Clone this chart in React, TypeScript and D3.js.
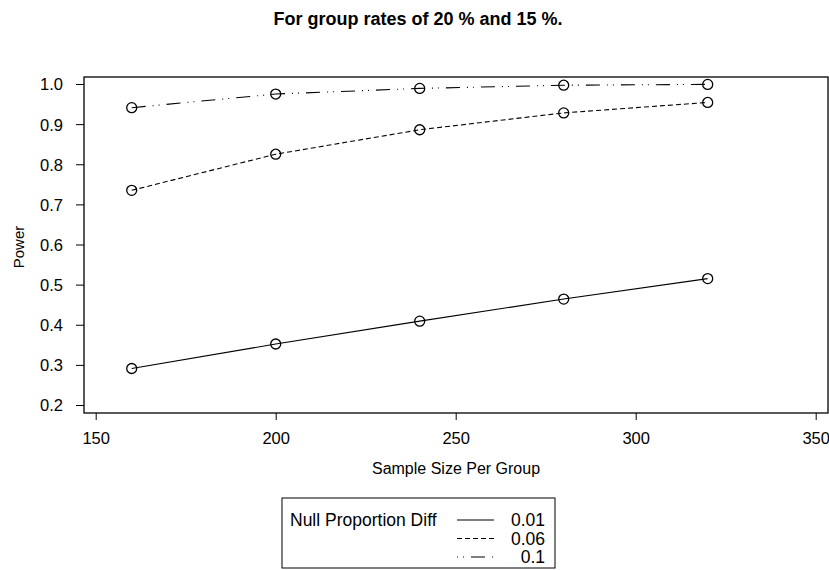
import React, { useEffect, useRef } from 'react';
import * as d3 from 'd3';

const sampleSizes = [160, 200, 240, 280, 320];
const nullDiffs = ['0.01', '0.06', '0.1'];
const power001 = [0.291, 0.352, 0.409, 0.464, 0.515];
const power006 = [0.735, 0.825, 0.886, 0.928, 0.954];
const power01 = [0.941, 0.975, 0.989, 0.997, 0.999];
const xTicks = [150, 200, 250, 300, 350];
const yTicks = [0.2, 0.3, 0.4, 0.5, 0.6, 0.7, 0.8, 0.9, 1.0];

const dashes = ['none', '5,3', '14,7,1,5,1,7'];

const App = () => {
  const ref = useRef<SVGSVGElement>(null);

  useEffect(() => {
    const svg = d3.select(ref.current);
    svg.selectAll('*').remove();
    const font = 'Liberation Sans, Arial, sans-serif';

    const left = 84, right = 828, top = 77, bottom = 413;
    const x = d3.scaleLinear().domain([150, 350]).range([95.7, 815.7]);
    const y = d3.scaleLinear().domain([0.2, 1.0]).range([405, 84]);

    svg.append('text')
      .attr('x', 418).attr('y', 25)
      .attr('text-anchor', 'middle')
      .attr('font-family', font).attr('font-weight', 'bold').attr('font-size', 18)
      .text('For group rates of 20 % and 15 %.');

    svg.append('rect')
      .attr('x', left).attr('y', top)
      .attr('width', right - left).attr('height', bottom - top)
      .attr('fill', 'none').attr('stroke', '#000').attr('stroke-width', 1.3);

    const gx = svg.append('g').attr('transform', `translate(0,${bottom})`)
      .call(d3.axisBottom(x).tickValues(xTicks).tickSize(7).tickPadding(0).tickFormat(d3.format('d')));
    gx.select('.domain').remove();
    gx.selectAll('text').attr('dy', null).attr('y', 31)
      .attr('font-family', font).attr('font-size', 16.5).attr('fill', '#000');

    const gy = svg.append('g').attr('transform', `translate(${left},0)`)
      .call(d3.axisLeft(y).tickValues(yTicks).tickSize(8).tickPadding(13).tickFormat(d3.format('.1f')));
    gy.select('.domain').remove();
    gy.selectAll('text').attr('dy', '0.36em')
      .attr('font-family', font).attr('font-size', 16.5).attr('fill', '#000');

    svg.append('text')
      .attr('x', 456).attr('y', 474)
      .attr('text-anchor', 'middle')
      .attr('font-family', font).attr('font-size', 16)
      .text('Sample Size Per Group');

    svg.append('text')
      .attr('transform', 'translate(24,247) rotate(-90)')
      .attr('text-anchor', 'middle')
      .attr('font-family', font).attr('font-size', 15)
      .text('Power');

    const series = [power001, power006, power01];
    const line = d3.line<number>().x((_, i) => x(sampleSizes[i])).y(d => y(d));

    series.forEach((vals, k) => {
      svg.append('path')
        .attr('d', line(vals))
        .attr('fill', 'none').attr('stroke', '#000').attr('stroke-width', 1.1)
        .attr('stroke-dasharray', dashes[k]);
      svg.selectAll(null).data(vals).enter().append('circle')
        .attr('cx', (_, i) => x(sampleSizes[i])).attr('cy', d => y(d))
        .attr('r', 5).attr('fill', 'none').attr('stroke', '#000').attr('stroke-width', 1.3);
    });

    // legend
    const lg = svg.append('g');
    lg.append('rect')
      .attr('x', 282).attr('y', 498).attr('width', 273).attr('height', 70)
      .attr('fill', 'none').attr('stroke', '#000').attr('stroke-width', 1);
    lg.append('text')
      .attr('x', 290).attr('y', 526)
      .attr('font-family', font).attr('font-size', 17.5)
      .text('Null Proportion Diff');
    nullDiffs.forEach((lab, k) => {
      const ly = 520 + k * 18.5;
      lg.append('line')
        .attr('x1', 457).attr('x2', 494).attr('y1', ly).attr('y2', ly)
        .attr('stroke', '#000').attr('stroke-width', 1.1)
        .attr('stroke-dasharray', dashes[k])
        .attr('stroke-dashoffset', k === 2 ? 21 : 0);
      lg.append('text')
        .attr('x', 545).attr('y', ly + 6)
        .attr('text-anchor', 'end')
        .attr('font-family', font).attr('font-size', 17.5)
        .text(lab);
    });
  }, []);

  return <svg ref={ref} width={829} height={570} style={{ position: 'absolute', left: 0, top: 0, background: '#fff' }} />;
};

export default App;
